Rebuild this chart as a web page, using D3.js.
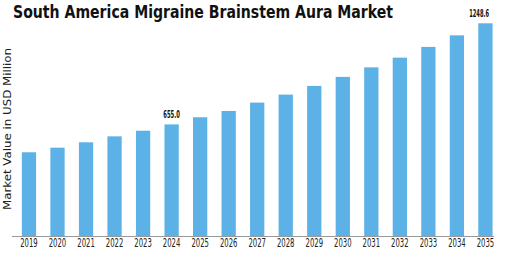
<!DOCTYPE html>
<html><head><meta charset="utf-8">
<script src="https://cdn.jsdelivr.net/npm/d3@7"></script>
<style>body{margin:0;background:#fff}svg{display:block}</style>
</head><body><svg id="c" width="505" height="253"></svg>
<script>
const years = ["2019","2020","2021","2022","2023","2024","2025","2026","2027","2028","2029","2030","2031","2032","2033","2034","2035"];
const values = [491.5,518.5,550,585,618,655,697,734,783,830,881,934,990,1047,1110,1178,1248.6];
const labeledYears = ["2024","2035"];
const labelTexts = ["655.0","1248.6"];
const titleText = "South America Migraine Brainstem Aura Market";
const yAxisTitle = "Market Value in USD Million";

const svg = d3.select("#c");
const baseY = 236;
const x = d3.scaleBand().domain(years).range([14.7, 499.7]).paddingInner(0.5).paddingOuter(0.25);
const y = d3.scaleLinear().domain([0, 1248.6]).range([baseY, 23.3]);

svg.append("g").selectAll("rect").data(years).join("rect")
  .attr("x", d => x(d)).attr("width", x.bandwidth())
  .attr("y", (d,i) => y(values[i])).attr("height", (d,i) => baseY - y(values[i]))
  .attr("fill", "#5cb2e6");

const ax = svg.append("g").attr("transform", `translate(0,${baseY})`)
  .call(d3.axisBottom(x).tickSize(0).tickPadding(3));
ax.select(".domain").remove();
ax.selectAll("text").attr("font-family","DejaVu Sans Condensed").attr("font-size",11.5)
  .attr("fill","#222").attr("textLength",17.5).attr("lengthAdjust","spacingAndGlyphs");
svg.append("line").attr("x1",12).attr("x2",494).attr("y1",baseY+0.5).attr("y2",baseY+0.5)
  .attr("stroke","#999").attr("stroke-width",1);

const lblW = t => t.length * 3.3;
svg.append("g").selectAll("text").data(labeledYears).join("text")
  .attr("x", (d,i) => Math.min(x(d) + x.bandwidth()/2, 489 - lblW(labelTexts[i])/2))
  .attr("y", (d,i) => y(values[years.indexOf(d)]) - 6)
  .attr("text-anchor","middle").attr("font-family","DejaVu Sans Condensed").attr("font-weight","bold")
  .attr("font-size",10.5).attr("fill","#111")
  .attr("textLength",(d,i)=> lblW(labelTexts[i])).attr("lengthAdjust","spacingAndGlyphs")
  .text((d,i) => labelTexts[i]);

svg.append("text").attr("x",13).attr("y",18.3)
  .attr("font-family","DejaVu Sans Condensed").attr("font-weight","bold").attr("font-size",18)
  .attr("fill","#111").attr("textLength",380).attr("lengthAdjust","spacingAndGlyphs")
  .text(titleText);

svg.append("text").attr("transform","translate(10.5,129) rotate(-90)")
  .attr("text-anchor","middle").attr("font-family","DejaVu Sans").attr("font-size",10.5)
  .attr("fill","#222").attr("textLength",162).attr("lengthAdjust","spacingAndGlyphs").text(yAxisTitle);
</script></body></html>
